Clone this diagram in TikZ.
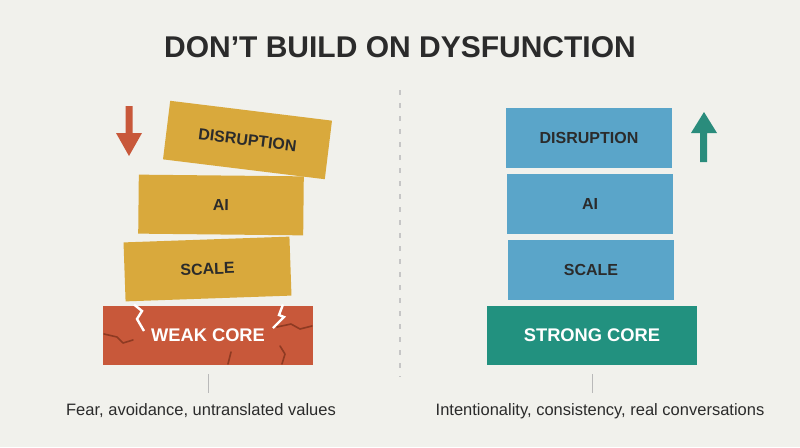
\documentclass[tikz,border=0pt]{standalone}
\usepackage{fontspec}
\setmainfont{Liberation Sans}
\definecolor{bgc}{HTML}{F1F1EC}
\definecolor{gold}{HTML}{D9A93C}
\definecolor{skyb}{HTML}{5AA5C9}
\definecolor{tealc}{HTML}{22917F}
\definecolor{brick}{HTML}{C8583A}
\definecolor{darkcrack}{HTML}{8E3A22}
\definecolor{inkc}{HTML}{2B2B2B}
\definecolor{greenarrow}{HTML}{2A8C7C}
\tikzset{
  block/.style={rectangle, inner sep=0pt, minimum width=165pt, minimum height=59pt,
    font=\fontsize{16}{18}\selectfont\bfseries, text=inkc},
  goldblock/.style={block, fill=gold},
  blueblock/.style={block, fill=skyb},
  core/.style={rectangle, inner sep=0pt, minimum width=210pt, minimum height=59pt,
    font=\fontsize{18.3}{20}\selectfont\bfseries, text=white},
  caption/.style={anchor=base, font=\fontsize{16.5}{18}\selectfont, text=inkc, inner sep=0pt},
  tick/.style={draw=gray!55, line width=1pt},
  whitecrack/.style={draw=white, line width=2.4pt, line join=miter},
  darkline/.style={draw=darkcrack, line width=1.6pt, line join=round, line cap=round},
}
\begin{document}
\begin{tikzpicture}[x=1pt,y=-1pt]
\useasboundingbox (0,0) rectangle (800,447);
\fill[bgc] (0,0) rectangle (800,447);

% title
\node[font=\fontsize{30}{34}\selectfont\bfseries, text=inkc, inner sep=0pt] (title) at (400,47.5) {DON’T BUILD ON DYSFUNCTION};

% divider
\coordinate (divtop) at (400,90);
\coordinate (divbot) at (400,377);
\draw[gray!45, line width=1.3pt, dash pattern=on 5pt off 8pt] (divtop) -- (divbot);

% ---- left stack ----
\node[core, fill=brick] (weak) at (208,335) {WEAK CORE};
% cracks
\draw[whitecrack] (134,304.5) -- (142,311) -- (137,319) -- (144,331);
\draw[whitecrack] (283,304.5) -- (279,315) -- (284,317) -- (273,328);
\draw[darkline] (104,334) -- (117,337) -- (123,343) -- (133,340);
\draw[darkline] (277,327) -- (291,324) -- (300,329) -- (312,326);
\draw[darkline] (280,346) -- (285,354) -- (282,364);
\draw[darkline] (231,352) -- (228,364);

\node[goldblock, minimum width=166pt, rotate=2] (lscale) at (207.5,269) {SCALE};
\node[goldblock, rotate=-0.6] (lai) at (221,205) {AI};
\node[goldblock, minimum width=163pt, rotate=-7] (ldis) at (247.5,140) {DISRUPTION};

% red arrow
\fill[brick] (125.5,106) -- (132.5,106) -- (132.5,133) -- (142,133) -- (129,156) -- (116,133) -- (125.5,133) -- cycle;

\coordinate (lt1) at (208,374);
\coordinate (lt2) at (208,393);
\draw[tick] (lt1) -- (lt2);
\node[caption] (lcap) at (201,415) {Fear, avoidance, untranslated values};

% ---- right stack ----
\node[core, fill=tealc] (strong) at (592,335.5) {STRONG CORE};
\node[blueblock, minimum width=166pt, minimum height=60pt] (rscale) at (591,270) {SCALE};
\node[blueblock, minimum width=166pt, minimum height=60pt] (rai) at (590,204) {AI};
\node[blueblock, minimum width=166pt, minimum height=60pt] (rdis) at (589,138) {DISRUPTION};

% green arrow
\fill[greenarrow] (700,162) -- (707,162) -- (707,133) -- (717,133) -- (704,112) -- (691,133) -- (700,133) -- cycle;

\coordinate (rt1) at (592,374);
\coordinate (rt2) at (592,393);
\draw[tick] (rt1) -- (rt2);
\node[caption] (rcap) at (600,415) {Intentionality, consistency, real conversations};
\end{tikzpicture}
\end{document}
